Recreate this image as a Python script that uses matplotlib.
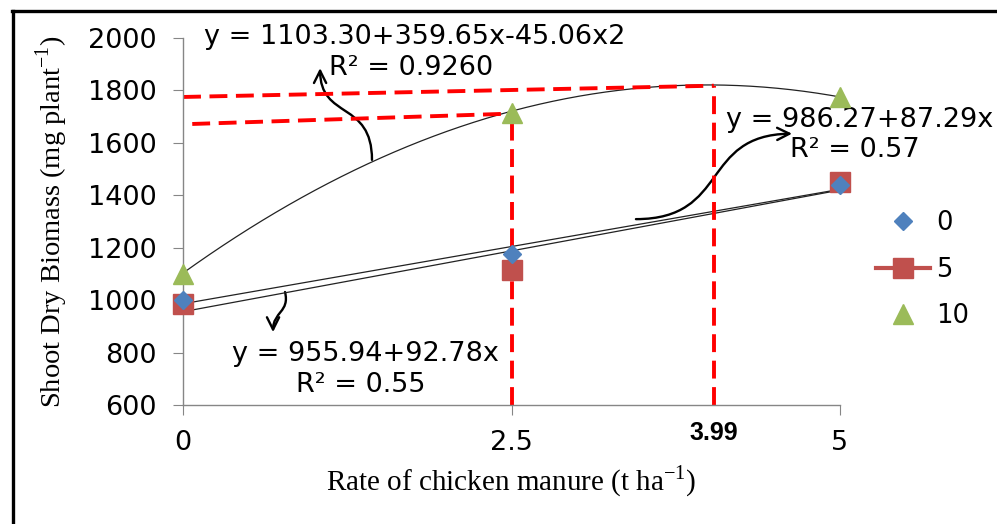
import numpy as np
import matplotlib
matplotlib.use('Agg')
import matplotlib.pyplot as plt
from matplotlib.lines import Line2D
from matplotlib.path import Path
from matplotlib.patches import FancyArrowPatch

# 1. Data
rate = [0, 2.5, 5]
bio_0 = [1000, 1175, 1440]
bio_5 = [985, 1115, 1450]
bio_10 = [1100, 1715, 1775]

# trendline coefficients (highest power first), as printed on the chart
fit_0 = [92.78, 955.94]
fit_5 = [87.29, 986.27]
fit_10 = [-45.06, 359.65, 1103.30]

# red guide lines drawn by hand on the original
guide_x_max = 4.04
guide_top = [[0, guide_x_max], [1775, 1818]]
guide_mid = [[0.07, 2.53], [1672, 1712]]
guide_v25 = [[2.5, 2.5], [600, 1690]]
guide_v399 = [[guide_x_max, guide_x_max], [600, 1818]]

plt.rcParams['mathtext.fontset'] = 'custom'
plt.rcParams['mathtext.rm'] = 'Liberation Serif'

blue, red, green = '#4F81BD', '#C0504D', '#9BBB59'

fig = plt.figure(figsize=(9.97, 5.24), dpi=100)
ax = fig.add_axes([0.1836, 0.2271, 0.6589, 0.7004])

# 2. Trendlines
xs = np.linspace(0, 5, 200)
ax.plot(xs, np.polyval(fit_10, xs), color='#222222', lw=0.9)
ax.plot(xs, np.polyval(fit_0, xs), color='#222222', lw=0.9)
ax.plot(xs, np.polyval(fit_5, xs), color='#222222', lw=0.9)

# 3. Red dashed guides
for g in (guide_top, guide_mid, guide_v25, guide_v399):
    ax.plot(g[0], g[1], color='#FF0000', lw=2.8, dashes=(4.6, 2.2), clip_on=False)

# 4. Points
ax.plot(rate, bio_5, 's', color=red, ms=14, clip_on=False, zorder=5)
ax.plot(rate, bio_0, 'D', color=blue, ms=9.5, clip_on=False, zorder=6)
ax.plot(rate, bio_10, '^', color=green, ms=14, clip_on=False, zorder=6)

# 5. Axes styling
ax.set_xlim(0, 5)
ax.set_ylim(600, 2000)
ax.set_xticks([0, 2.5, 5])
ax.set_xticklabels(['0', '2.5', '5'])
ax.set_yticks(range(600, 2001, 200))
for s in ('top', 'right'):
    ax.spines[s].set_visible(False)
for s in ('left', 'bottom'):
    ax.spines[s].set_color('#868686')
    ax.spines[s].set_linewidth(1.0)
ax.tick_params(axis='y', direction='out', length=7, color='#868686', labelsize=19.5, pad=12)
ax.tick_params(axis='x', direction='out', length=7, color='#868686', labelsize=19.5, pad=11)

ax.set_ylabel(r'Shoot Dry Biomass (mg plant$^{\mathrm{-1}}$)', family='Liberation Serif',
              fontsize=20.5, labelpad=13)
ax.set_xlabel(r'Rate of chicken manure (t ha$^{\mathrm{-1}}$)', family='Liberation Serif',
              fontsize=21, labelpad=5)

ax.text(guide_x_max, 493, '3.99', ha='center', va='center', fontsize=18, fontweight='bold',
        family=['Liberation Sans Narrow', 'Liberation Sans'], clip_on=False)

# 6. Equations
eq_kw = dict(fontsize=19.5, va='center', ha='left', clip_on=False)
ax.text(0.16, 2004, 'y = 1103.30+359.65x-45.06x2', **eq_kw)
ax.text(1.11, 1886, 'R² = 0.9260', **eq_kw)
ax.text(4.13, 1687, 'y = 986.27+87.29x', **eq_kw)
ax.text(4.62, 1573, 'R² = 0.57', **eq_kw)
ax.text(0.37, 794, 'y = 955.94+92.78x', **eq_kw)
ax.text(0.86, 676, 'R² = 0.55', **eq_kw)

# 7. Curved arrows
arrows = [
    [(1.438, 1535), (1.438, 1763), (1.043, 1687), (1.043, 1885)],
    [(3.447, 1309), (4.163, 1309), (3.935, 1630), (4.635, 1635)],
    [(0.776, 1031), (0.814, 955), (0.685, 955), (0.685, 878)],
]
for pts in arrows:
    path = Path(pts, [Path.MOVETO, Path.CURVE4, Path.CURVE4, Path.CURVE4])
    arr = FancyArrowPatch(path=path, arrowstyle='->', mutation_scale=22, lw=1.7,
                          color='black', transform=ax.transData, clip_on=False)
    ax.add_patch(arr)

# 8. Legend
handles = [
    Line2D([], [], ls='none', marker='D', color=blue, ms=9.5),
    Line2D([], [], ls='-', lw=3, marker='s', color=red, ms=14),
    Line2D([], [], ls='none', marker='^', color=green, ms=14),
]
fig.legend(handles, ['0', '5', '10'], loc='center left', bbox_to_anchor=(876 / 997, 0.485),
           frameon=False, fontsize=18.5, borderpad=0, borderaxespad=0, handlelength=2.1,
           handletextpad=0.25, labelspacing=0.8)

# 9. Frame around the figure (only top and left show)
fig.add_artist(Line2D([12 / 997, 1], [1 - 10.5 / 524] * 2, color='black', lw=2.4,
                      transform=fig.transFigure))
fig.add_artist(Line2D([12.5 / 997] * 2, [0, 1 - 10.5 / 524], color='black', lw=2.4,
                      transform=fig.transFigure))

plt.savefig('out.png', dpi=100)
